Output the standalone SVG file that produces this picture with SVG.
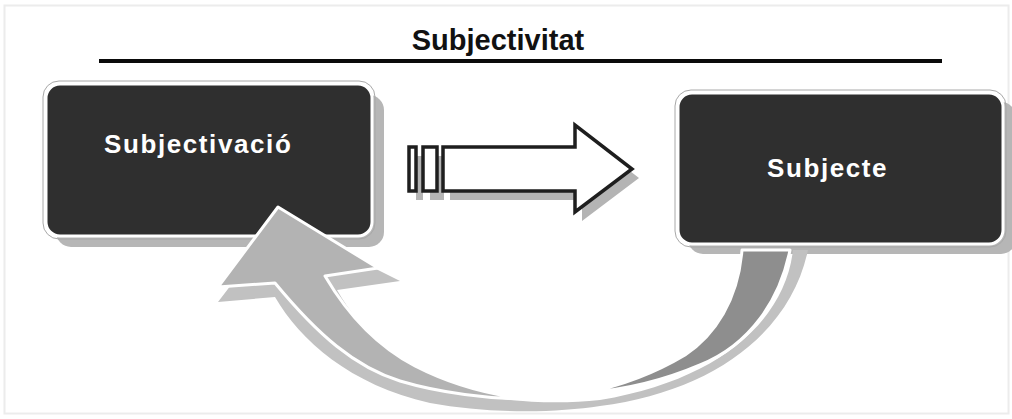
<svg xmlns="http://www.w3.org/2000/svg" width="1012" height="419" viewBox="0 0 1012 419">
<style>
.box{fill:#2f2f2f;stroke:#ffffff;stroke-width:3}
.boxedge{fill:none;stroke:#a8a8a8;stroke-width:1}
.shadow{fill:#b6b6b6}
.label{font-family:"Liberation Sans",Arial,sans-serif;font-weight:bold;font-size:26px;letter-spacing:1.6px;fill:#ffffff}
.title{font-family:"Liberation Sans",Arial,sans-serif;font-weight:bold;font-size:29px;fill:#111111}
.blk{fill:#ffffff;stroke:#1e1e1e;stroke-width:3.5}
.blkshadow{fill:#b4b4b4}
.curvemain{fill:#b3b3b3;stroke:#ffffff;stroke-width:3;stroke-linejoin:round}
.curvedark{fill:#8e8e8e;stroke:#ffffff;stroke-width:3;stroke-linejoin:round}
.curveshadow{fill:#c1c1c1}
</style>
<rect x="0" y="0" width="1012" height="419" fill="#ffffff"/>
<rect x="4.5" y="5.5" width="1004" height="408" fill="none" stroke="#ececec" stroke-width="2"/>

<g id="title">
<text class="title" x="498" y="50" text-anchor="middle">Subjectivitat</text>
<rect x="99" y="59" width="843" height="4" fill="#0a0a0a"/>
</g>

<g id="node-subjectivacio">
<rect class="shadow" x="56" y="95" width="328" height="152" rx="15"/>
<rect class="boxedge" x="43" y="81" width="332" height="158" rx="16"/>
<rect class="box" x="46" y="84" width="326" height="152" rx="14"/>
<text class="label" x="104" y="153">Subjectivació</text>
</g>

<g id="node-subjecte">
<rect class="shadow" x="688" y="102" width="328" height="152" rx="15"/>
<rect class="boxedge" x="675" y="90" width="331" height="157" rx="16"/>
<rect class="box" x="678" y="93" width="325" height="151" rx="14"/>
<text class="label" x="767" y="177">Subjecte</text>
</g>

<g id="connectors">
<g id="block-arrow">
<g transform="translate(7,9)" class="blkshadow">
<path d="M443,147 H575 V125 L632,169 L575,212 V191 H443 Z"/>
<rect x="409" y="147" width="7" height="44"/>
<rect x="423" y="147" width="14" height="44"/>
</g>
<path class="blk" d="M443,147 H575 V125 L632,169 L575,212 V191 H443 Z"/>
<rect class="blk" x="409" y="147" width="7" height="44"/>
<rect class="blk" x="423" y="147" width="14" height="44"/>
</g>
<g id="curved-arrow">
<path class="curveshadow" d="M280,221 L218,302 L275,297 C300,340 350,385 430,403 C490,414 555,413 600,406 C710,392 790,335 808,250 L793,250 C785,320 720,380 600,400 C545,406 480,400 440,385 C400,370 360,330 337,290 L400,281 Z"/>
<path class="curvedark" d="M742,250 L790,250 C780,300 750,345 700,365 C665,380 625,390 585,393 C625,385 660,370 685,355 C715,335 738,300 742,250 Z"/>
<path class="curvemain" d="M278,207 L378,268 L325,276 C345,310 375,345 415,366 C450,384 490,395 528,399 C490,399 440,393 400,381 C355,367 318,335 275,283 L218,287 Z"/>
</g>
</g>
</svg>
